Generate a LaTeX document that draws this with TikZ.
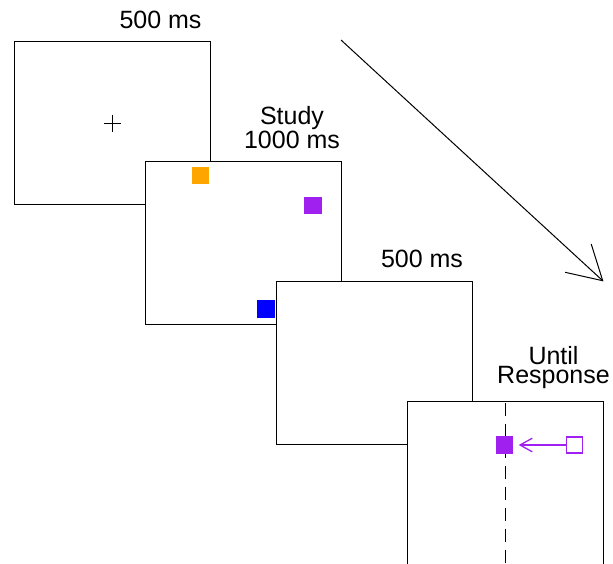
\documentclass[tikz,border=0pt]{standalone}
\usepackage{fontspec}
\setmainfont{Liberation Sans}
\usetikzlibrary{calc}
\definecolor{sqorange}{HTML}{FFA500}
\definecolor{sqpurple}{HTML}{A020F0}
\definecolor{sqblue}{HTML}{0000FF}
\begin{document}
\begin{tikzpicture}[x=1pt,y=-1pt,
  screen/.style={draw=black,fill=white,line width=1.3pt,minimum width=196pt,minimum height=163pt,inner sep=0pt,anchor=north west},
  label/.style={anchor=base,inner sep=0pt,align=center},
  colsq/.style={minimum size=17.5pt,inner sep=0pt,draw=none},
  hollowsq/.style={minimum size=16pt,inner sep=0pt,draw=sqpurple,line width=1.5pt,fill=white}
]
\useasboundingbox (0,0) rectangle (613,563);
% time arrow
\coordinate (tstart) at (341,40);
\coordinate (ttip) at (602.7,280.7);
\draw[line width=1pt] (tstart) -- (ttip);
\draw[line width=1pt] ($(ttip)!38.5pt!30:(tstart)$) -- (ttip) -- ($(ttip)!38.5pt!-30:(tstart)$);
% screen 1
\node[screen] (s1) at (14,41) {};
\draw[line width=1.1pt] ($(s1.center)+(-8.5,0)$) -- ($(s1.center)+(8.5,0)$)
  ($(s1.center)+(0,-8.5)$) -- ($(s1.center)+(0,8.5)$);
\node[label,font=\fontsize{25}{24}\selectfont] (l1) at (160.5,28.3) {500 ms};
% screen 2
\node[screen] (s2) at (145,161) {};
\node[colsq,fill=sqorange] (o) at (200.7,175.3) {};
\node[colsq,fill=sqpurple] (p) at (313,205.3) {};
\node[colsq,fill=sqblue] (b) at (266,309) {};
\node[label,font=\fontsize{25}{24.4}\selectfont] (l2) at (292,148.7) {Study\\1000 ms};
% screen 3
\node[screen] (s3) at (275.5,281) {};
\node[label,font=\fontsize{25}{24}\selectfont] (l3) at (422,267.7) {500 ms};
% screen 4
\node[screen,minimum height=164pt] (s4) at (406.5,400.5) {};
\draw[line width=1.3pt,dash pattern=on 13pt off 8pt,dash phase=18.8pt] (s4.north) -- (s4.south);
\node[colsq,fill=sqpurple] (pt) at (504.5,445) {};
\node[hollowsq] (ph) at (574.5,445) {};
\coordinate (atip) at (520,445);
\draw[sqpurple,line width=1.3pt] (ph.west) -- (atip);
\draw[sqpurple,line width=1.3pt] ($(atip)!14pt!29:(ph.west)$) -- (atip) -- ($(atip)!14pt!-29:(ph.west)$);
\node[label,font=\fontsize{25}{18.5}\selectfont] (l4) at (553.5,383.3) {Until\\Response};
\end{tikzpicture}
\end{document}
